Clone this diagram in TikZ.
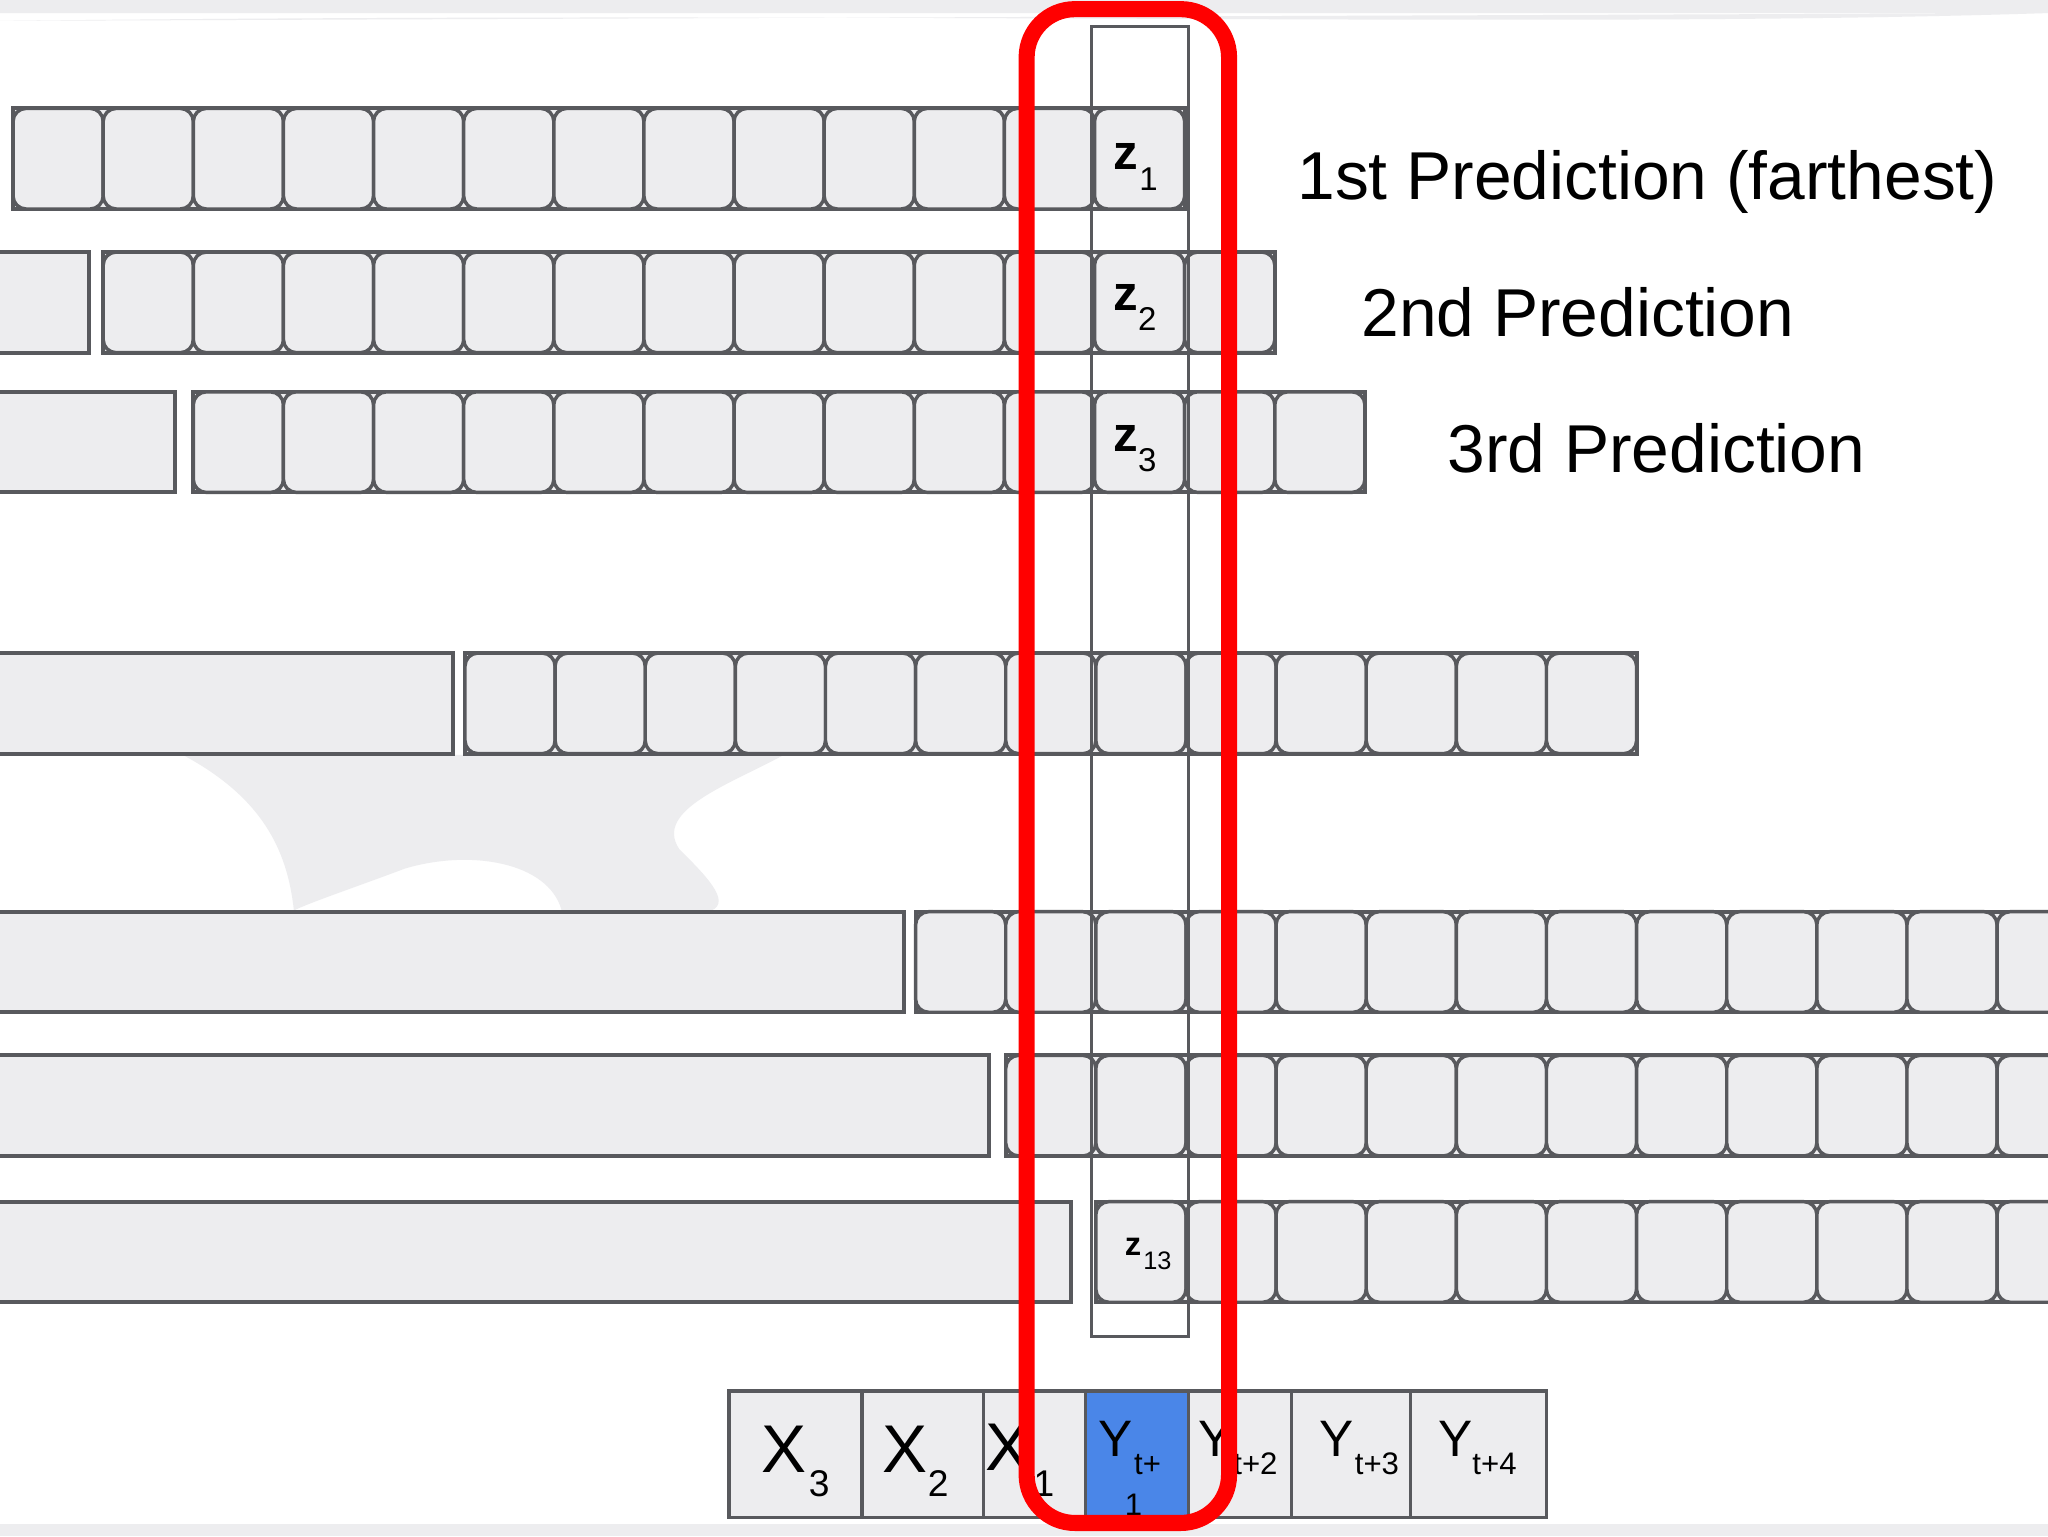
\documentclass[tikz,border=0pt]{standalone}
\usepackage{fontspec}
\setmainfont{Liberation Sans}
\usetikzlibrary{positioning}

\definecolor{cellfill}{RGB}{237,237,239}
\definecolor{celledge}{RGB}{88,89,93}
\definecolor{seqblue}{RGB}{74,134,232}
\definecolor{splash}{RGB}{237,237,239}

\tikzset{
	x=0.65pt, y=-0.65pt, % one unit is one pixel of the slide, y goes down
	rowbox/.style={draw=celledge, fill=cellfill, line width=2pt}, % straight frame of a prediction row
	cell/.style={draw=celledge, fill=cellfill, line width=1.7pt, rounded corners=6.5pt,
		minimum width=44.85pt, minimum height=50.05pt, inner sep=0pt}, % one rounded step
	colbox/.style={draw=celledge, line width=1.5pt},
	redbox/.style={draw=red, line width=8pt, rounded corners=24pt},
	seqcell/.style={draw=celledge, fill=cellfill, line width=1.7pt, minimum height=63pt, inner sep=0pt},
	txt/.style={inner sep=0pt, anchor=base west},
	zmain/.style={txt, font=\fontsize{24.5}{25}\selectfont\bfseries},
	zsub/.style={txt, font=\fontsize{16.4}{17}\selectfont},
	xmain/.style={txt, font=\fontsize{33.6}{34}\selectfont},
	xsub/.style={txt, font=\fontsize{18.5}{19}\selectfont},
	ymain/.style={txt, font=\fontsize{25.5}{26}\selectfont},
	ysub/.style={txt, font=\fontsize{15.5}{16}\selectfont},
	predtext/.style={txt, font=\fontsize{33.7}{34}\selectfont},
}

\begin{document}
\begin{tikzpicture}
	\useasboundingbox (0,0) rectangle (1568,1176);
	% background
	\fill[white] (0,0) rectangle (1568,1176);
	\fill[splash] (0,0) rectangle (1568,10) .. controls (1200,22) and (700,8) .. (0,16) -- cycle;
	\fill[splash] (0,1167) rectangle (1568,1176);
	\fill[splash] (140,578) -- (600,578) .. controls (560,600) and (500,620) .. (520,650)
		.. controls (540,670) and (560,690) .. (545,697) -- (430,697)
		.. controls (420,660) and (360,650) .. (310,665)
		.. controls (270,680) and (240,690) .. (225,697)
		.. controls (220,650) and (200,610) .. (140,578) -- cycle;

	% prediction rows: row k starts k-1 steps further right
	\foreach \k/\t/\s/\e in {1/83/10/0, 2/193/79/68, 3/300/148/134, 6/500/356/347,
			11/698/701/692, 12/808/770/757, 13/920/839/820} {
		\ifnum\k>1
			\draw[rowbox] (-10,\t) rectangle (\e,\t+77);
		\fi
		\draw[rowbox] (\s,\t) rectangle (\s+897,\t+77);
		\foreach \i in {1,...,13}
			\node[cell] (c\k-\i) at (\s+69*\i-34.5,\t+38.5) {};
	}

	% latent labels
	\node[zmain] (z1) at (852,130) {z};
	\node[zsub] (z1s) at (872,146) {1};
	\node[zmain] (z2) at (852,238) {z};
	\node[zsub] (z2s) at (871,253) {2};
	\node[zmain] (z3) at (852,346) {z};
	\node[zsub] (z3s) at (871,361) {3};
	\node[zmain, font=\fontsize{16.3}{17}\selectfont\bfseries] (z13) at (861,961) {z};
	\node[zsub, font=\fontsize{12.6}{13}\selectfont] (z13s) at (875,972) {13};

	% column of the first target step
	\draw[colbox] (836,20) rectangle (910,1023);

	% input / target sequence
	\foreach \a/\b/\n/\c in {558/660/x3/cellfill, 660/753/x2/cellfill, 753/831/x1/cellfill,
			831/910/y1/seqblue, 910/989/y2/cellfill, 989/1080/y3/cellfill, 1080/1184/y4/cellfill}
		\node[seqcell, fill=\c, minimum width={(\b-\a)*0.65}] (\n) at ({(\a+\b)/2},1113.5) {};

	\node[xmain] (x3t) at (583,1127) {X};
	\node[xsub] (x3s) at (619,1146) {3};
	\node[xmain] (x2t) at (675,1127) {X};
	\node[xsub] (x2s) at (710,1146) {2};
	\node[xmain] (x1t) at (754,1126) {X};
	\node[xsub] (x1s) at (791,1146) {1};
	\node[ymain] (y1t) at (841,1115) {Y};
	\node[ysub] (y1s) at (868,1129) {t+};
	\node[ysub] (y1r) at (861,1160) {1};
	\node[ymain] (y2t) at (917,1115) {Y};
	\node[ysub] (y2s) at (944,1129) {t+2};
	\node[ymain] (y3t) at (1010,1115) {Y};
	\node[ysub] (y3s) at (1037,1129) {t+3};
	\node[ymain] (y4t) at (1101,1115) {Y};
	\node[ysub] (y4s) at (1127,1129) {t+4};

	% row captions
	\node[predtext] (p1) at (993,153) {1st Prediction (farthest)};
	\node[predtext] (p2) at (1042,258) {2nd Prediction};
	\node[predtext] (p3) at (1108,362) {3rd Prediction};

	% highlight
	\draw[redbox] (786,7) rectangle (941,1166);
\end{tikzpicture}
\end{document}
